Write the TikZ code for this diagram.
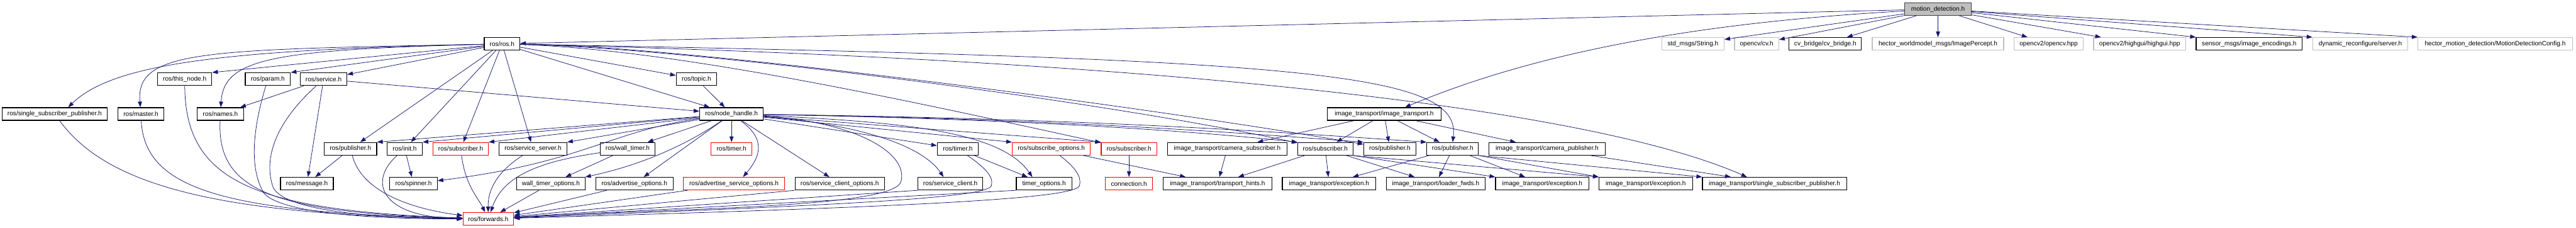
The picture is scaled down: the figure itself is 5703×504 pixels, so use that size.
\documentclass[tikz,border=0pt]{standalone}
\usepackage{fontspec}
\setmainfont{Liberation Sans}
\usepackage{xcolor}
\usepackage{tikz}
\usetikzlibrary{calc,arrows.meta}
\definecolor{inclBlue}{HTML}{191970}
\definecolor{mainFill}{HTML}{BFBFBF}
\definecolor{mainLine}{HTML}{404040}
\definecolor{extLine}{HTML}{BFBFBF}
\definecolor{cutRed}{HTML}{FF0000}
\tikzset{
  hdrbox/.style={rectangle, draw=black, fill=white, line width=0.9pt, font=\fontsize{8}{9.6}\selectfont, minimum height=0.56cm, inner xsep=1pt, inner ysep=0pt},
  exthdr/.style={hdrbox, draw=extLine},
  cuthdr/.style={hdrbox, draw=cutRed},
  mainhdr/.style={hdrbox, draw=mainLine, fill=mainFill},
  bw/.style={minimum width=#1*0.02cm},
  % --- include edges ---
  inclarrow/.style={-{Triangle[length=2.5mm,width=1.8mm]}, line width=0.6pt, draw=inclBlue},
}
\begin{document}
\begin{tikzpicture}[x=0.02cm,y=-0.02cm]
\useasboundingbox (0,0) rectangle (5703,504);
% row 1 and 2
\node[mainhdr, bw=147] (md) at (4290.5,20) {motion\_detection.h};
\node[hdrbox, bw=79] (ros) at (1111.5,97) {ros/ros.h};
\node[exthdr, bw=138] (str) at (3748,97) {std\_msgs/String.h};
\node[exthdr, bw=98] (cv) at (3889,97) {opencv/cv.h};
\node[hdrbox, bw=160] (cvb) at (4041,97) {cv\_bridge/cv\_bridge.h};
\node[exthdr, bw=291] (ip) at (4290.5,97) {hector\_worldmodel\_msgs/ImagePercept.h};
\node[exthdr, bw=153] (ocv2) at (4535.5,97) {opencv2/opencv.hpp};
\node[exthdr, bw=204] (hg) at (4737,97) {opencv2/highgui/highgui.hpp};
\node[hdrbox, bw=235] (enc) at (4979.5,97) {sensor\_msgs/image\_encodings.h};
\node[exthdr, bw=211] (dyn) at (5225.5,97) {dynamic\_reconfigure/server.h};
\node[exthdr, bw=342] (cfg) at (5524,97) {hector\_motion\_detection/MotionDetectionConfig.h};
% row 3 and 4
\node[hdrbox, bw=120] (thisnode) at (409,175) {ros/this\_node.h};
\node[hdrbox, bw=100] (param) at (593,175) {ros/param.h};
\node[hdrbox, bw=103] (service) at (716.5,175) {ros/service.h};
\node[hdrbox, bw=90] (topic) at (1542,175) {ros/topic.h};
\node[hdrbox, bw=232] (ssp) at (121,252) {ros/single\_subscriber\_publisher.h};
\node[hdrbox, bw=102] (master) at (312,252) {ros/master.h};
\node[hdrbox, bw=102] (names) at (488,252) {ros/names.h};
\node[hdrbox, bw=141] (nh) at (1619.5,252) {ros/node\_handle.h};
\node[hdrbox, bw=251] (it) at (3064.5,252) {image\_transport/image\_transport.h};
% row 5
\node[hdrbox, bw=116] (pubA) at (776,329) {ros/publisher.h};
\node[hdrbox, bw=78] (init) at (896,329) {ros/init.h};
\node[cuthdr, bw=122] (subA) at (1020,329) {ros/subscriber.h};
\node[hdrbox, bw=150] (srvsrv) at (1180,329) {ros/service\_server.h};
\node[hdrbox, bw=121] (walltimer) at (1389.5,329) {ros/wall\_timer.h};
\node[cuthdr, bw=91] (timerA) at (1619.5,329) {ros/timer.h};
\node[hdrbox, bw=91] (timerB) at (2120.5,329) {ros/timer.h};
\node[cuthdr, bw=173] (subopts) at (2327.5,329) {ros/subscribe\_options.h};
\node[cuthdr, bw=123] (subB) at (2499.5,329) {ros/subscriber.h};
\node[hdrbox, bw=264] (camsub) at (2717,329) {image\_transport/camera\_subscriber.h};
\node[hdrbox, bw=122] (subC) at (2934,329) {ros/subscriber.h};
\node[hdrbox, bw=116] (pubB) at (3077,329) {ros/publisher.h};
\node[hdrbox, bw=114] (pubC) at (3216,329) {ros/publisher.h};
\node[hdrbox, bw=258] (campub) at (3425,329) {image\_transport/camera\_publisher.h};
% row 6 and 7
\node[hdrbox, bw=117] (message) at (679.5,406) {ros/message.h};
\node[hdrbox, bw=105] (spinner) at (915.5,406) {ros/spinner.h};
\node[hdrbox, bw=151] (wallopts) at (1219.5,406) {wall\_timer\_options.h};
\node[hdrbox, bw=171] (advopts) at (1404.5,406) {ros/advertise\_options.h};
\node[cuthdr, bw=224] (advsrvopts) at (1625,406) {ros/advertise\_service\_options.h};
\node[hdrbox, bw=198] (scopts) at (1859,406) {ros/service\_client\_options.h};
\node[hdrbox, bw=144] (sclient) at (2104,406) {ros/service\_client.h};
\node[hdrbox, bw=123] (timeropts) at (2311.5,406) {timer\_options.h};
\node[cuthdr, bw=105] (conn) at (2499.5,406) {connection.h};
\node[hdrbox, bw=241] (hints) at (2695.5,406) {image\_transport/transport\_hints.h};
\node[hdrbox, bw=207] (excA) at (2942.5,406) {image\_transport/exception.h};
\node[hdrbox, bw=219] (loader) at (3178.5,406) {image\_transport/loader\_fwds.h};
\node[hdrbox, bw=207] (excB) at (3414.5,406) {image\_transport/exception.h};
\node[hdrbox, bw=207] (excC) at (3643.5,406) {image\_transport/exception.h};
\node[hdrbox, bw=319] (sspit) at (3928.5,406) {image\_transport/single\_subscriber\_publisher.h};
\node[cuthdr, bw=112] (fwd) at (1081,484) {ros/forwards.h};

% motion_detection.h
\draw[inclarrow] (md) -- (ros);
\draw[inclarrow] (md) .. controls (3850,45) and (3450,95) .. ($(it.north)+(46,0)$);
\draw[inclarrow] (md) -- (str);
\draw[inclarrow] (md) -- (cv);
\draw[inclarrow] (md) -- (cvb);
\draw[inclarrow] (md) -- (ip);
\draw[inclarrow] (md) -- (ocv2);
\draw[inclarrow] (md) -- (hg);
\draw[inclarrow] (md) -- (enc.north west);
\draw[inclarrow] (md) -- (dyn.north west);
\draw[inclarrow] (md) -- (cfg.north west);

% ros/ros.h
\draw[inclarrow] (ros) .. controls (500,110) and (250,140) .. ($(ssp.north)+(30,0)$);
\draw[inclarrow] (ros) .. controls (450,110) and (300,110) .. (master);
\draw[inclarrow] (ros) -- (thisnode.north east);
\draw[inclarrow] (ros) .. controls (600,110) and (495,130) .. (names);
\draw[inclarrow] (ros) -- (param.north east);
\draw[inclarrow] (ros) -- (service);
\draw[inclarrow] (ros) -- (pubA);
\draw[inclarrow] (ros) -- (init);
\draw[inclarrow] (ros) -- (subA);
\draw[inclarrow] (ros) -- (srvsrv);
\draw[inclarrow] (ros) -- (nh);
\draw[inclarrow] (ros) -- (topic);
\draw[inclarrow] (ros) .. controls (1500,110) and (2000,220) .. (subB);
\draw[inclarrow] (ros) .. controls (1500,105) and (2400,215) .. (subC);
\draw[inclarrow] (ros) .. controls (1500,100) and (2500,230) .. (pubB);
\draw[inclarrow] (ros) .. controls (2900,130) and (3235,160) .. (pubC.north);
\draw[inclarrow] (ros) .. controls (2500,130) and (3500,230) .. ($(sspit.north)+(-61,0)$);

% ros/service.h and the left group
\draw[inclarrow] (service) -- (names);
\draw[inclarrow] (service) -- (message);
\draw[inclarrow] (service) -- (nh);
\draw[inclarrow] (service) .. controls (600,280) and (585,360) .. (605,415) .. controls (635,470) and (850,482) .. (fwd);
\draw[inclarrow] (ssp) .. controls (230,400) and (450,475) .. (fwd);
\draw[inclarrow] (master) .. controls (320,420) and (500,470) .. (fwd);
\draw[inclarrow] (thisnode) .. controls (410,400) and (560,465) .. (fwd);
\draw[inclarrow] (names) .. controls (480,420) and (600,470) .. (fwd);
\draw[inclarrow] (param) .. controls (555,300) and (555,380) .. (585,428) .. controls (630,475) and (850,484) .. (fwd);
\draw[inclarrow] (topic) -- (nh);

% row 5 to row 6
\draw[inclarrow] (pubA) -- (message);
\draw[inclarrow] (pubA) .. controls (800,420) and (900,460) .. (fwd);
\draw[inclarrow] (init) -- (spinner);
\draw[inclarrow] (init) .. controls (815,400) and (840,480) .. (fwd);
\draw[inclarrow] (subA) .. controls (1030,410) and (1060,440) .. (fwd);
\draw[inclarrow] (srvsrv) .. controls (1100,380) and (1080,420) .. (fwd);
\draw[inclarrow] (walltimer) -- (wallopts);
\draw[inclarrow] (walltimer) .. controls (1170,360) and (1110,400) .. (fwd);
\draw[inclarrow] (wallopts) -- (fwd);
\draw[inclarrow] (advopts) -- (fwd);
\draw[inclarrow] (advsrvopts) -- (fwd);
\draw[inclarrow] (scopts.south west) -- (fwd);
\draw[inclarrow] (sclient.south west) -- (fwd);
\draw[inclarrow] (timerB) -- (timeropts);
\draw[inclarrow] (timerB) .. controls (2180,370) and (2200,390) .. (2195,410) .. controls (2190,440) and (1800,455) .. (fwd);
\draw[inclarrow] (timeropts.south west) -- (fwd);
\draw[inclarrow] (subopts) -- (hints);
\draw[inclarrow] (subopts) .. controls (2380,370) and (2395,390) .. (2390,410) .. controls (2385,440) and (2000,458) .. (fwd);

% ros/node_handle.h
\draw[inclarrow] (nh) -- (pubA.north east);
\draw[inclarrow] (nh) -- (init.north east);
\draw[inclarrow] (nh) -- (subA.north east);
\draw[inclarrow] (nh) -- (srvsrv.north east);
\draw[inclarrow] (nh) -- (walltimer);
\draw[inclarrow] (nh) .. controls (1350,290) and (1290,360) .. (spinner);
\draw[inclarrow] (nh) .. controls (1520,320) and (1420,365) .. (wallopts.north east);
\draw[inclarrow] (nh) -- (advopts);
\draw[inclarrow] (nh) -- (timerA);
\draw[inclarrow] ($(nh.south)+(20,0)$) .. controls (1700,310) and (1680,350) .. ($(advsrvopts.north)+(20,0)$);
\draw[inclarrow] (nh) -- (scopts);
\draw[inclarrow] (nh) .. controls (1900,270) and (2010,340) .. (1995,400) .. controls (1985,460) and (1500,460) .. (fwd);
\draw[inclarrow] (nh) -- (timerB);
\draw[inclarrow] (nh) .. controls (1900,275) and (2040,320) .. ($(sclient.north)+(-15,0)$);
\draw[inclarrow] (nh) .. controls (2000,270) and (2215,290) .. ($(timeropts.north)+(-26,0)$);
\draw[inclarrow] (nh) -- (subopts.north west);
\draw[inclarrow] (nh) -- (subB.north west);
\draw[inclarrow] (nh) .. controls (2200,262) and (2600,285) .. (subC.north west);
\draw[inclarrow] (nh) .. controls (2300,262) and (2700,290) .. (pubB.north west);
\draw[inclarrow] (nh) .. controls (2400,262) and (2800,290) .. (pubC.north west);

% image_transport
\draw[inclarrow] (it) -- (camsub);
\draw[inclarrow] (it) -- (subC);
\draw[inclarrow] (it) -- (pubB);
\draw[inclarrow] (it) -- (pubC);
\draw[inclarrow] (it) -- (campub);
\draw[inclarrow] (subB) -- (conn);
\draw[inclarrow] (camsub) -- (hints);
\draw[inclarrow] (subC) -- (hints);
\draw[inclarrow] (subC) -- (excA);
\draw[inclarrow] (subC) -- (loader);
\draw[inclarrow] (subC.south east) -- (excB.north west);
\draw[inclarrow] (subC.south east) -- (excC.north west);
\draw[inclarrow] (pubC) -- (excA);
\draw[inclarrow] (pubC) -- (loader);
\draw[inclarrow] (pubC) -- (excB);
\draw[inclarrow] (pubC.south east) -- (excC.north west);
\draw[inclarrow] (pubC.south east) -- (sspit.north west);
\draw[inclarrow] (campub) -- (sspit);
\end{tikzpicture}
\end{document}
